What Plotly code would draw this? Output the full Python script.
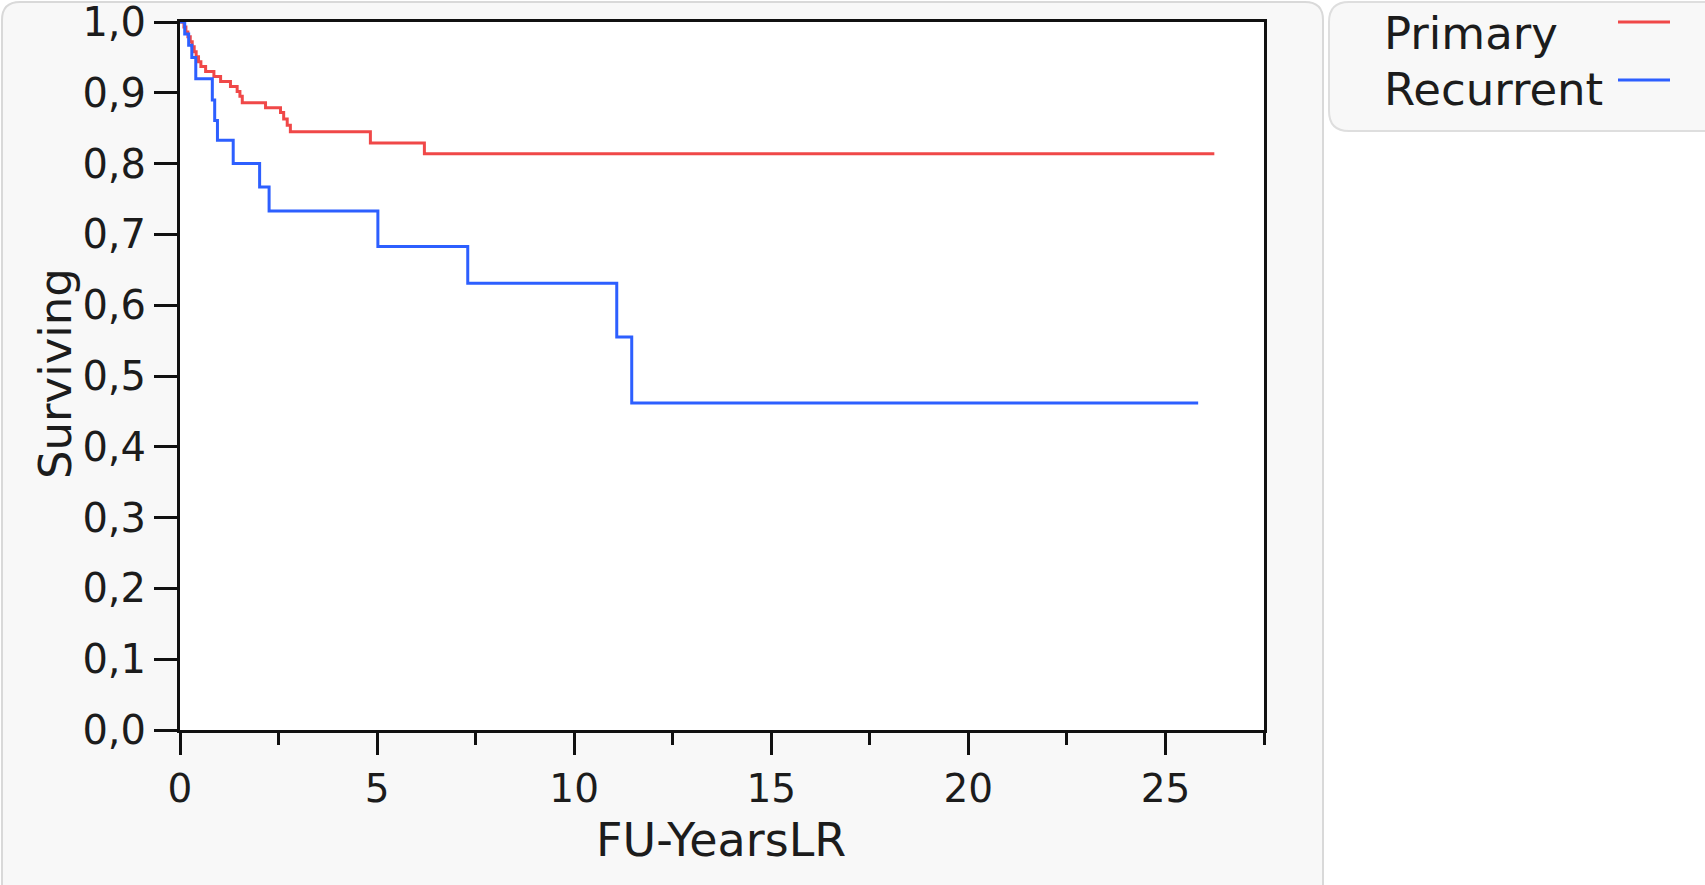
import plotly.graph_objects as go

# ---- data ----
series_names = ["Primary", "Recurrent"]

primary_t = [0.00, 0.10, 0.15, 0.20, 0.26, 0.31, 0.36, 0.41, 0.47, 0.53, 0.65, 0.86,
             1.03, 1.28, 1.45, 1.52, 1.58, 2.17, 2.55, 2.63, 2.72, 2.80, 4.83, 6.20, 26.24]
primary_s = [1.000, 0.993, 0.986, 0.979, 0.972, 0.965, 0.958, 0.951, 0.944, 0.937, 0.930, 0.923,
             0.916, 0.909, 0.902, 0.895, 0.886, 0.879, 0.872, 0.863, 0.854, 0.845, 0.829, 0.814, 0.814]

recurrent_t = [0.00, 0.12, 0.22, 0.30, 0.40, 0.82, 0.88, 0.95, 1.35, 2.02, 2.26, 5.02,
               7.30, 11.08, 11.46, 25.83]
recurrent_s = [1.000, 0.983, 0.967, 0.950, 0.920, 0.890, 0.861, 0.833, 0.800, 0.767, 0.733, 0.683,
               0.631, 0.555, 0.462, 0.462]

y_ticks = [0.0, 0.1, 0.2, 0.3, 0.4, 0.5, 0.6, 0.7, 0.8, 0.9, 1.0]
x_ticks = [0, 5, 10, 15, 20, 25]

colors = ["rgb(240,72,72)", "rgb(45,95,255)"]

# ---- layout geometry ----
W, H = 1705, 885
L, R, T, B = 180, 441, 22, 155
PW = W - L - R
PH = H - T - B


def px(xp):
    return (xp - L) / PW


def py(yp):
    return (H - B - yp) / PH


FONT = "DejaVu Sans"
TXT = "#1c1c1c"

fig = go.Figure()
fig.add_trace(go.Scatter(x=primary_t, y=primary_s, mode="lines", line_shape="hv",
                         name=series_names[0], line=dict(color=colors[0], width=3)))
fig.add_trace(go.Scatter(x=recurrent_t, y=recurrent_s, mode="lines", line_shape="hv",
                         name=series_names[1], line=dict(color=colors[1], width=3)))


def rounded(x0, y0, x1, y1, r):
    pts = [
        f"M{px(x0 + r)},{py(y0)}",
        f"L{px(x1 - r)},{py(y0)}",
        f"Q{px(x1)},{py(y0)} {px(x1)},{py(y0 + r)}",
        f"L{px(x1)},{py(y1 - r)}",
        f"Q{px(x1)},{py(y1)} {px(x1 - r)},{py(y1)}",
        f"L{px(x0 + r)},{py(y1)}",
        f"Q{px(x0)},{py(y1)} {px(x0)},{py(y1 - r)}",
        f"L{px(x0)},{py(y0 + r)}",
        f"Q{px(x0)},{py(y0)} {px(x0 + r)},{py(y0)}",
        "Z",
    ]
    return " ".join(pts)


shapes = [
    dict(type="path", xref="paper", yref="paper", layer="below",
         path=rounded(2, 2, 1323, 920, 18),
         fillcolor="#f8f8f8", line=dict(color="#d9d9d9", width=2)),
    dict(type="path", xref="paper", yref="paper", layer="below",
         path=rounded(1329, 2, 1740, 131, 20),
         fillcolor="#f8f8f8", line=dict(color="#dedede", width=2)),
    dict(type="rect", xref="paper", yref="paper", layer="below",
         x0=0, x1=1, y0=0, y1=1, fillcolor="white", line=dict(width=0)),
    dict(type="line", xref="paper", yref="paper",
         x0=px(1618), x1=px(1670), y0=py(22), y1=py(22),
         line=dict(color=colors[0], width=3)),
    dict(type="line", xref="paper", yref="paper",
         x0=px(1618), x1=px(1670), y0=py(80), y1=py(80),
         line=dict(color=colors[1], width=3)),
]

annotations = [
    dict(text="Surviving", xref="paper", yref="paper", x=px(55), y=py(374),
         textangle=-90, showarrow=False, xanchor="center", yanchor="middle",
         font=dict(family=FONT, size=45, color=TXT)),
    dict(text="FU-YearsLR", xref="paper", yref="paper", x=px(721), y=py(840),
         showarrow=False, xanchor="center", yanchor="middle",
         font=dict(family=FONT, size=46, color=TXT)),
    dict(text=series_names[0], xref="paper", yref="paper", x=px(1382), y=py(34),
         showarrow=False, xanchor="left", yanchor="middle",
         font=dict(family=FONT, size=45, color=TXT)),
    dict(text=series_names[1], xref="paper", yref="paper", x=px(1382), y=py(89),
         showarrow=False, xanchor="left", yanchor="middle",
         font=dict(family=FONT, size=45, color=TXT)),
]

fig.update_layout(
    width=W, height=H,
    margin=dict(l=L, r=R, t=T, b=B, pad=0, autoexpand=False),
    paper_bgcolor="white",
    plot_bgcolor="rgba(0,0,0,0)",
    showlegend=False,
    separators=",.",
    shapes=shapes,
    annotations=annotations,
    font=dict(family=FONT, size=40, color=TXT),
)

fig.update_xaxes(
    range=[0, 27.5], tickvals=x_ticks, ticktext=[str(v) for v in x_ticks],
    automargin=False, ticklabeloverflow="allow",
    showgrid=False, zeroline=False,
    showline=True, linecolor="#111", linewidth=3, mirror=True,
    ticks="outside", ticklen=22, tickwidth=3, tickcolor="#111",
    minor=dict(dtick=2.5, tick0=0, ticks="outside", ticklen=12, tickwidth=3,
               tickcolor="#111", showgrid=False),
    tickfont=dict(family=FONT, size=39, color=TXT),
)
fig.update_yaxes(
    range=[0, 1], tickvals=y_ticks, tickformat=".1f",
    automargin=False, ticklabeloverflow="allow",
    showgrid=False, zeroline=False,
    showline=True, linecolor="#111", linewidth=3, mirror=True,
    ticks="outside", ticklen=23, tickwidth=3, tickcolor="#111",
    tickfont=dict(family=FONT, size=40, color=TXT),
)

fig.write_html("out.html")
